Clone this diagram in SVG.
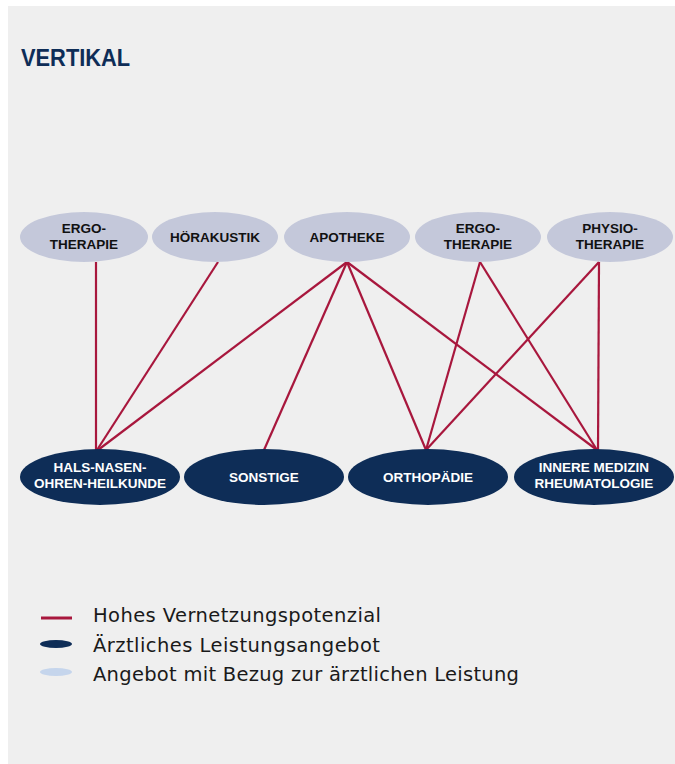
<svg xmlns="http://www.w3.org/2000/svg" width="675" height="764" viewBox="0 0 675 764">
  <style>
    .top ellipse { fill: #c4c8da; }
    .bottom ellipse { fill: #0e2d57; }
    .lbl { font-family: "Liberation Sans", Arial, sans-serif; font-weight: bold; font-size: 13.5px; text-anchor: middle; }
    .top .lbl { fill: #111111; }
    .bottom .lbl { fill: #ffffff; }
    .link { stroke: #a8173d; stroke-width: 2.2; fill: none; }
    .legend { font-family: "DejaVu Sans", "Liberation Sans", sans-serif; font-size: 19.5px; fill: #1a1a1a; }
  </style>

  <rect x="0" y="0" width="675" height="764" fill="#ffffff"/>
  <rect x="8" y="6" width="667" height="758" fill="#efefef"/>

  <text x="21" y="66" font-family="Liberation Sans, Arial, sans-serif" font-weight="bold" font-size="24" fill="#0e2d57" transform="translate(21 0) scale(0.91 1) translate(-21 0)">VERTIKAL</text>

  <!-- connectors -->
  <g id="connectors">
    <line class="link" x1="96" y1="262" x2="96" y2="450"/>
    <line class="link" x1="218" y1="262" x2="97" y2="450"/>
    <line class="link" x1="347" y1="262" x2="98" y2="450"/>
    <line class="link" x1="347" y1="262" x2="264" y2="450"/>
    <line class="link" x1="347" y1="262" x2="426" y2="450"/>
    <line class="link" x1="347" y1="262" x2="597" y2="450"/>
    <line class="link" x1="480" y1="262" x2="426" y2="450"/>
    <line class="link" x1="480" y1="262" x2="597" y2="450"/>
    <line class="link" x1="599" y1="262" x2="426" y2="450"/>
    <line class="link" x1="599" y1="262" x2="598" y2="450"/>
  </g>

  <!-- related offerings -->
  <g id="ergo1" class="top">
    <ellipse cx="84" cy="237" rx="64" ry="25"/>
    <text class="lbl" x="84" y="233">ERGO-</text>
    <text class="lbl" x="84" y="249">THERAPIE</text>
  </g>
  <g id="hoerakustik" class="top">
    <ellipse cx="215" cy="237" rx="63" ry="25"/>
    <text class="lbl" x="215" y="242">HÖRAKUSTIK</text>
  </g>
  <g id="apotheke" class="top">
    <ellipse cx="347" cy="237" rx="63" ry="25"/>
    <text class="lbl" x="347" y="242">APOTHEKE</text>
  </g>
  <g id="ergo2" class="top">
    <ellipse cx="478" cy="237" rx="63" ry="25"/>
    <text class="lbl" x="478" y="233">ERGO-</text>
    <text class="lbl" x="478" y="249">THERAPIE</text>
  </g>
  <g id="physio" class="top">
    <ellipse cx="610" cy="237" rx="63" ry="25"/>
    <text class="lbl" x="610" y="233">PHYSIO-</text>
    <text class="lbl" x="610" y="249">THERAPIE</text>
  </g>

  <!-- medical offerings -->
  <g id="hno" class="bottom">
    <ellipse cx="100" cy="477" rx="80" ry="28"/>
    <text class="lbl" x="100" y="472">HALS-NASEN-</text>
    <text class="lbl" x="100" y="488">OHREN-HEILKUNDE</text>
  </g>
  <g id="sonstige" class="bottom">
    <ellipse cx="264" cy="477" rx="80" ry="28"/>
    <text class="lbl" x="264" y="482">SONSTIGE</text>
  </g>
  <g id="orthopaedie" class="bottom">
    <ellipse cx="428" cy="477" rx="80" ry="28"/>
    <text class="lbl" x="428" y="482">ORTHOPÄDIE</text>
  </g>
  <g id="innere" class="bottom">
    <ellipse cx="594" cy="477" rx="80" ry="28"/>
    <text class="lbl" x="594" y="472">INNERE MEDIZIN</text>
    <text class="lbl" x="594" y="488">RHEUMATOLOGIE</text>
  </g>

  <!-- legend -->
  <g id="legend">
    <line x1="41" y1="618" x2="72" y2="618" stroke="#a8173d" stroke-width="3"/>
    <text class="legend" x="93" y="622" textLength="288">Hohes Vernetzungspotenzial</text>
    <ellipse cx="56" cy="644" rx="16" ry="4" fill="#0e2d57"/>
    <text class="legend" x="93" y="652" textLength="287">Ärztliches Leistungsangebot</text>
    <ellipse cx="56" cy="672" rx="16" ry="4" fill="#c5d5ec"/>
    <text class="legend" x="93" y="681" textLength="426">Angebot mit Bezug zur ärztlichen Leistung</text>
  </g>
</svg>
